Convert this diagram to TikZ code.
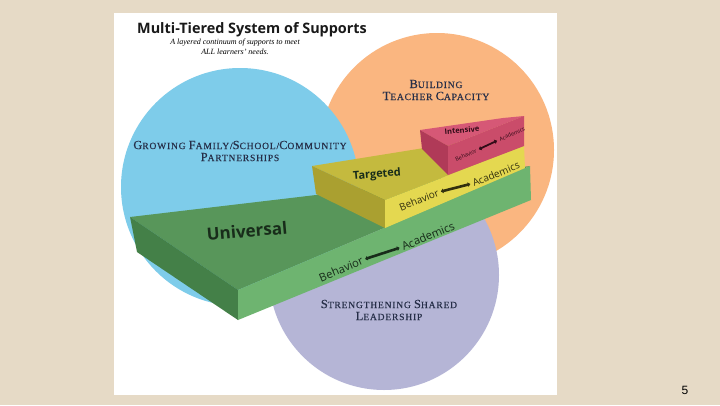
\documentclass[tikz,border=0pt]{standalone}
\usepackage{fontspec}
\setmainfont{Liberation Serif}
\newfontfamily\osans{Open Sans}
\newfontfamily\lsans{Liberation Sans}
\newfontfamily\capsfont{Liberation Serif}[LetterSpace=8,FakeBold=0.3]
\usetikzlibrary{arrows.meta}

\definecolor{bg}{RGB}{230,218,198}
\definecolor{cblue}{RGB}{126,204,234}
\definecolor{corange}{RGB}{250,182,128}
\definecolor{cpurple}{RGB}{181,181,214}
\definecolor{gtop}{RGB}{88,150,90}
\definecolor{gleft}{RGB}{68,128,72}
\definecolor{gfront}{RGB}{110,180,112}
\definecolor{ytop}{RGB}{196,186,62}
\definecolor{yleft}{RGB}{170,160,48}
\definecolor{yfront}{RGB}{228,216,80}
\definecolor{rtop}{RGB}{214,88,118}
\definecolor{rleft}{RGB}{176,58,88}
\definecolor{rfront}{RGB}{202,76,106}
\definecolor{navy}{RGB}{38,46,72}
\definecolor{gtext}{RGB}{24,44,26}
\definecolor{ytext}{RGB}{50,48,14}
\definecolor{rtext}{RGB}{50,12,24}

\newcommand\SCbig{\fontsize{12.4}{12}\selectfont}
\newcommand\SCsm{\fontsize{9.6}{12}\selectfont}
\newcommand\SCw[2]{{\SCbig #1}{\SCsm #2}}

\begin{document}
\begin{tikzpicture}[x=1pt,y=-1pt,
  capslbl/.style={font=\capsfont\SCsm, text=navy, align=center, inner sep=0pt},
  facetxt/.style={font=\osans, inner sep=0pt},
  tierlbl/.style={font=\osans\bfseries, inner sep=0pt},
  barrow/.style={line width=2.6pt, {Triangle[length=2.5pt,width=4.5pt]}-{Triangle[length=2.5pt,width=4.5pt]}, shorten <=2.5pt, shorten >=2.5pt}
]
\fill[bg] (0,0) rectangle (720,405);
\useasboundingbox (0,0) rectangle (720,405);
\fill[white] (114,13) rectangle (557,395);

% circles
\begin{scope}
\clip (114,13) rectangle (557,395);
\fill[corange] (437,150) circle[radius=117pt];
\fill[cpurple] (384,275) circle[radius=115pt];
\fill[cblue] (240,187) circle[radius=119pt];
\end{scope}

% green slab
\fill[gtop] (130,217) -- (316,195) -- (530,166) -- (238,290) -- cycle;
\fill[gleft] (130,217) -- (238,290) -- (238,320) -- (137,252) -- cycle;
\fill[gfront] (238,290) -- (530,166) -- (531,200) -- (238,320) -- cycle;

% yellow slab
\fill[ytop] (312,166) -- (505,135) -- (524,146) -- (385,200) -- cycle;
\fill[yleft] (312,166) -- (385,200) -- (385,228) -- (316,194) -- cycle;
\fill[yfront] (385,200) -- (524,146) -- (525,168) -- (385,228) -- cycle;

% red slab
\fill[rtop] (420,130) -- (503,118) -- (524,116) -- (448,146) -- cycle;
\fill[rleft] (420,130) -- (448,146) -- (448,175) -- (422,149) -- cycle;
\fill[rfront] (448,146) -- (524,116) -- (524,146) -- (448,175) -- cycle;

% title
\node[font=\osans\bfseries\fontsize{14.4}{14.4}\selectfont, text=black!90, inner sep=0pt] (title) at (252,30) {Multi-Tiered System of Supports};
\node[font=\itshape\fontsize{8}{10}\selectfont, align=center, inner sep=0pt] (sub) at (235,47) {A layered continuum of supports to meet\\ALL learners' needs.};

% circle labels
\node[capslbl] (grow) at (240,151) {\SCw{G}{ROWING} \SCw{F}{AMILY}/\SCw{S}{CHOOL}/\SCw{C}{OMMUNITY}\\\SCw{P}{ARTNERSHIPS}};
\node[capslbl] (build) at (436,90) {\SCw{B}{UILDING}\\\SCw{T}{EACHER} \SCw{C}{APACITY}};
\node[capslbl] (lead) at (389,310) {\SCw{S}{TRENGTHENING} \SCw{S}{HARED}\\\SCw{L}{EADERSHIP}};

% tier labels
\node[tierlbl, text=gtext, font=\osans\bfseries\fontsize{17}{17}\selectfont, rotate=5] (univ) at (247,231) {Universal};
\node[tierlbl, text=gtext, font=\osans\bfseries\fontsize{11}{11}\selectfont, rotate=5] (targ) at (377,175) {Targeted};
\node[tierlbl, text=rtext, font=\osans\bfseries\fontsize{7.5}{7.5}\selectfont, rotate=5] (inten) at (462,130) {Intensive};

% face texts
\node[facetxt, text=gtext, font=\osans\fontsize{11.3}{11.3}\selectfont, rotate=23] (gb) at (341,269) {Behavior};
\node[facetxt, text=gtext, font=\osans\fontsize{11.3}{11.3}\selectfont, rotate=23] (ga) at (428,236) {Academics};
\draw[barrow, gtext] (gb.east) -- (ga.west);

\node[facetxt, text=ytext, font=\osans\fontsize{10}{10}\selectfont, rotate=22] (yb) at (419,200) {Behavior};
\node[facetxt, text=ytext, font=\osans\fontsize{10}{10}\selectfont, rotate=22] (ya) at (496,174) {Academics};
\draw[barrow, ytext] (yb.east) -- (ya.west);

\node[facetxt, text=rtext, font=\osans\fontsize{5.5}{5.5}\selectfont, rotate=24] (rb) at (466,155) {Behavior};
\node[facetxt, text=rtext, font=\osans\fontsize{5.5}{5.5}\selectfont, rotate=24] (ra) at (512,134) {Academics};
\draw[barrow, rtext, line width=1.8pt] (rb.east) -- (ra.west);

% page number
\node[font=\lsans\fontsize{12}{12}\selectfont, inner sep=0pt] (pg) at (685,390) {5};
\end{tikzpicture}
\end{document}
